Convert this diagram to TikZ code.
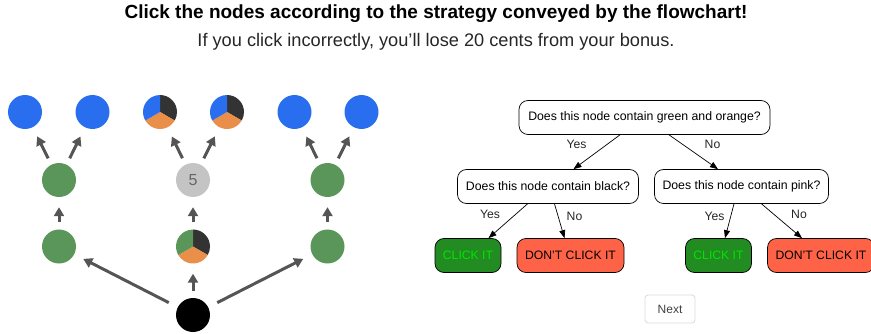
\documentclass[tikz,border=0pt]{standalone}
\usepackage{fontspec}
\setmainfont{Liberation Sans}
\usetikzlibrary{arrows.meta}
\definecolor{nblue}{HTML}{2A6EF0}
\definecolor{ngreen}{HTML}{5A955A}
\definecolor{nblack}{HTML}{333333}
\definecolor{norange}{HTML}{E98F4A}
\definecolor{ngray}{HTML}{C4C4C4}
\definecolor{arrowgray}{HTML}{555555}
\definecolor{clickfill}{HTML}{228B22}
\definecolor{clicktext}{HTML}{00E600}
\definecolor{dontfill}{HTML}{FF6347}
\newcommand{\mypie}[2]{%
  \fill[nblack] (#1.center) -- ++(90:17pt) arc[start angle=90,end angle=-30,radius=17pt] -- cycle;
  \fill[norange] (#1.center) -- ++(-30:17pt) arc[start angle=-30,end angle=-150,radius=17pt] -- cycle;
  \fill[#2] (#1.center) -- ++(210:17pt) arc[start angle=210,end angle=90,radius=17pt] -- cycle;
}
\begin{document}
\begin{tikzpicture}[x=1pt,y=-1pt,
  dot/.style={circle, minimum size=34pt, inner sep=0pt, draw=none},
  treearrow/.style={draw=arrowgray, line width=3pt, -{Triangle[length=9pt,width=10pt]}, shorten <=7pt, shorten >=10pt},
  question/.style={draw=black, line width=0.7pt, rounded corners=9pt, fill=white, minimum height=34pt, inner xsep=6pt, font=\fontsize{12.3}{14}\selectfont},
  leafclick/.style={draw=black, line width=0.7pt, rounded corners=9pt, fill=clickfill, text=clicktext, minimum height=34pt, minimum width=66pt, inner xsep=2pt, font=\fontsize{12.2}{14}\selectfont},
  leafdont/.style={draw=black, line width=0.7pt, rounded corners=9pt, fill=dontfill, text=black, minimum height=34pt, minimum width=107pt, inner xsep=2pt, font=\fontsize{12.2}{14}\selectfont},
  flowarrow/.style={draw=black, line width=0.7pt, -{Triangle[length=8pt,width=6pt]}},
  lbl/.style={font=\fontsize{12.2}{14}\selectfont, inner sep=0pt, text=black!85}
]
\useasboundingbox (0,0) rectangle (871,334);

% titles
\node[inner sep=0pt] (title) at (436,14) {\fontsize{19}{22}\selectfont\bfseries Click the nodes according to the strategy conveyed by the flowchart!};
\node[inner sep=0pt, text=black!85] (subtitle) at (436,42) {\fontsize{18.2}{21}\selectfont If you click incorrectly, you'll lose 20 cents from your bonus.};

% left tree
\node[dot, fill=nblue] (t1) at (25,112) {};
\node[dot, fill=nblue] (t2) at (92.5,112) {};
\node[dot] (t3) at (160,112) {};
\node[dot] (t4) at (227,112) {};
\node[dot, fill=nblue] (t5) at (294.5,112) {};
\node[dot, fill=nblue] (t6) at (361.5,112) {};
\mypie{t3}{nblue}
\mypie{t4}{nblue}

\node[dot, fill=ngreen] (m1) at (59,180) {};
\node[dot, fill=ngray, text=black!60, font=\fontsize{16}{19}\selectfont] (m2) at (193,180) {5};
\node[dot, fill=ngreen] (m3) at (327.5,180) {};

\node[dot, fill=ngreen] (l1) at (59,246.5) {};
\node[dot] (l2) at (193,246.5) {};
\mypie{l2}{ngreen}
\node[dot, fill=ngreen] (l3) at (327.5,246.5) {};

\node[dot, fill=black] (root) at (193,315) {};

\draw[treearrow] (m1) -- (t1);
\draw[treearrow] (m1) -- (t2);
\draw[treearrow] (m2) -- (t3);
\draw[treearrow] (m2) -- (t4);
\draw[treearrow] (m3) -- (t5);
\draw[treearrow] (m3) -- (t6);
\draw[treearrow] (l1) -- (m1);
\draw[treearrow] (l2) -- (m2);
\draw[treearrow] (l3) -- (m3);
\draw[treearrow, shorten <=10pt] (root) -- (l1);
\draw[treearrow] (root) -- (l2);
\draw[treearrow, shorten <=10pt] (root) -- (l3);

% flowchart
\node[question, minimum width=251pt] (q1) at (644.5,117.5) {Does this node contain green and orange?};
\node[question, minimum width=181pt] (q2) at (548,186.5) {Does this node contain black?};
\node[question, minimum width=174pt] (q3) at (741.5,186.5) {Does this node contain pink?};
\node[leafclick] (c1) at (468,255.5) {CLICK IT};
\node[leafdont] (d1) at (570.5,255.5) {DON'T CLICK IT};
\node[leafclick] (c2) at (718.5,255.5) {CLICK IT};
\node[leafdont] (d2) at (821,255.5) {DON'T CLICK IT};

\draw[flowarrow] ([xshift=-24.5pt]q1.south) -- ([xshift=25.5pt]q2.north);
\draw[flowarrow] ([xshift=24.5pt]q1.south) -- ([xshift=-23.5pt]q3.north);
\draw[flowarrow] ([xshift=-20.5pt]q2.south) -- ([xshift=20.5pt]c1.north);
\draw[flowarrow] ([xshift=6.5pt]q2.south) -- ([xshift=-6pt]d1.north);
\draw[flowarrow] ([xshift=-7.5pt]q3.south) -- ([xshift=6.5pt]c2.north);
\draw[flowarrow] ([xshift=20pt]q3.south) -- ([xshift=-19pt]d2.north);

\node[lbl] (y1) at (576.5,144) {Yes};
\node[lbl] (n1) at (712.5,144) {No};
\node[lbl] (y2) at (490,214) {Yes};
\node[lbl] (n2) at (574.5,216) {No};
\node[lbl] (y3) at (714.5,216) {Yes};
\node[lbl] (n3) at (799,214) {No};

% next button
\node[draw=black!15, line width=0.8pt, rounded corners=3pt, minimum width=50pt, minimum height=28pt, inner sep=0pt, text=black!75, font=\fontsize{12}{14}\selectfont] (next) at (670,309) {Next};
\end{tikzpicture}
\end{document}
